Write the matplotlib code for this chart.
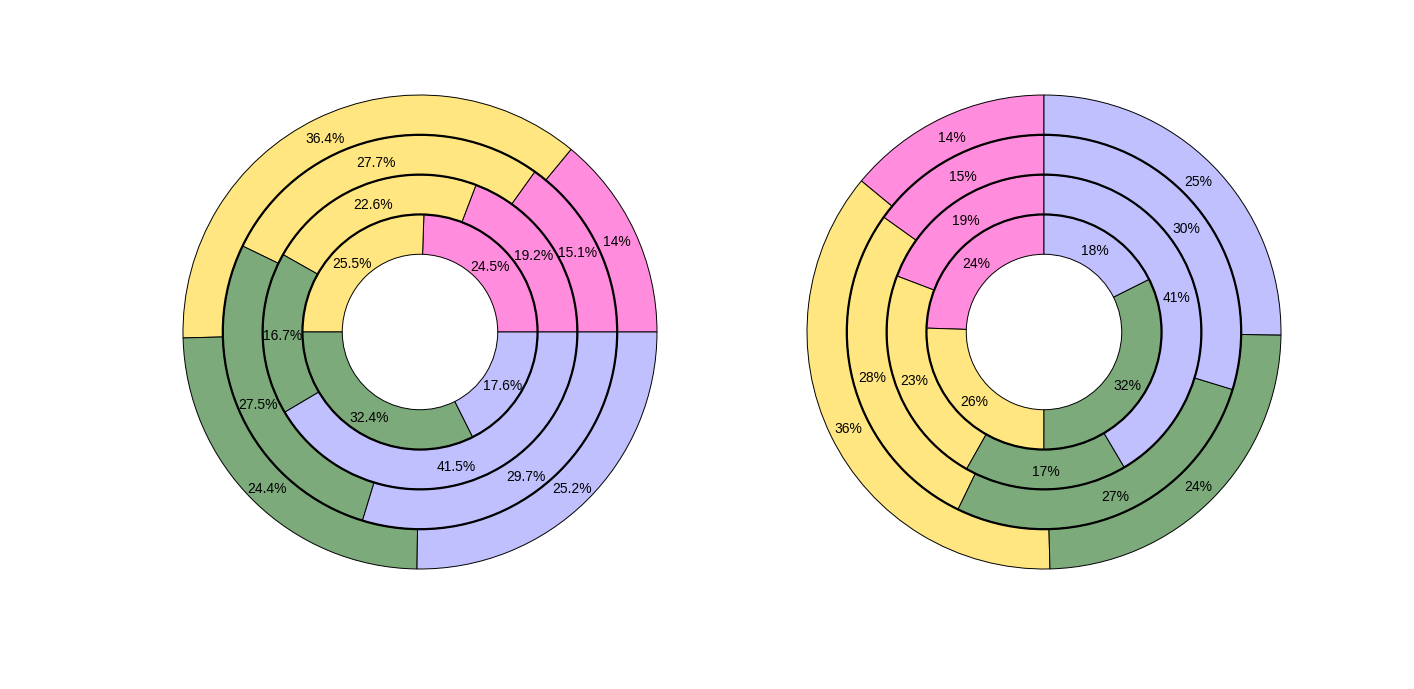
import matplotlib
matplotlib.use("Agg")
import matplotlib.pyplot as plt
from matplotlib.patches import Circle

plt.rcParams['font.family'] = ['Liberation Sans', 'DejaVu Sans']

categories = ["Pink", "Yellow", "Green", "Blue"]
colors = ["#ff8cdc", "#ffe680", "#7caa7b", "#c0c0ff"]

# rings from inner to outer, values per category
ring1 = [24.47, 25.52, 32.4, 17.6]
ring2 = [19.2, 22.6, 16.7, 41.46]
ring3 = [15.1, 27.7, 27.46, 29.7]
ring4 = [14.0, 36.4, 24.4, 25.2]
rings = [ring1, ring2, ring3, ring4]

W, H = 1414, 689
fig = plt.figure(figsize=(W / 100, H / 100), dpi=100)

unit = 237.0  # pixels per radius unit
half = 1.25
size = 2 * half * unit
centers = [(420, 332), (1044, 332)]
width = 0.168
radii = [1.0 - width * (3 - i) for i in range(4)]  # inner to outer outer-radii

def make_fmt(kind):
    def f(p):
        if kind == 0:
            return '{:.3g}%'.format(p)
        return '{:.0f}%'.format(p)
    return f

for k, (cx, cy) in enumerate(centers):
    left = (cx - size / 2) / W
    bottom = (H - cy - size / 2) / H
    ax = fig.add_axes([left, bottom, size / W, size / H])
    start = 0 if k == 0 else 90
    for r, vals in zip(radii, rings):
        _, _, autotexts = ax.pie(
            vals, radius=r, colors=colors, startangle=start,
            counterclock=True, autopct=make_fmt(k),
            pctdistance=(r - width / 2) / r,
            wedgeprops=dict(width=width, edgecolor='black', linewidth=0.7),
            textprops=dict(fontsize=10, color='black'))
        for t in autotexts:
            x, y = t.get_position()
            t.set_position((x, y - 2.5 / unit))
    for r in radii[:-1]:
        ax.add_patch(Circle((0, 0), r, fill=False, edgecolor='black', linewidth=1.6, zorder=5))
    ax.set_xlim(-half, half)
    ax.set_ylim(-half, half)
    ax.set_aspect('equal')
    ax.axis('off')

fig.savefig("out.png", dpi=100)
